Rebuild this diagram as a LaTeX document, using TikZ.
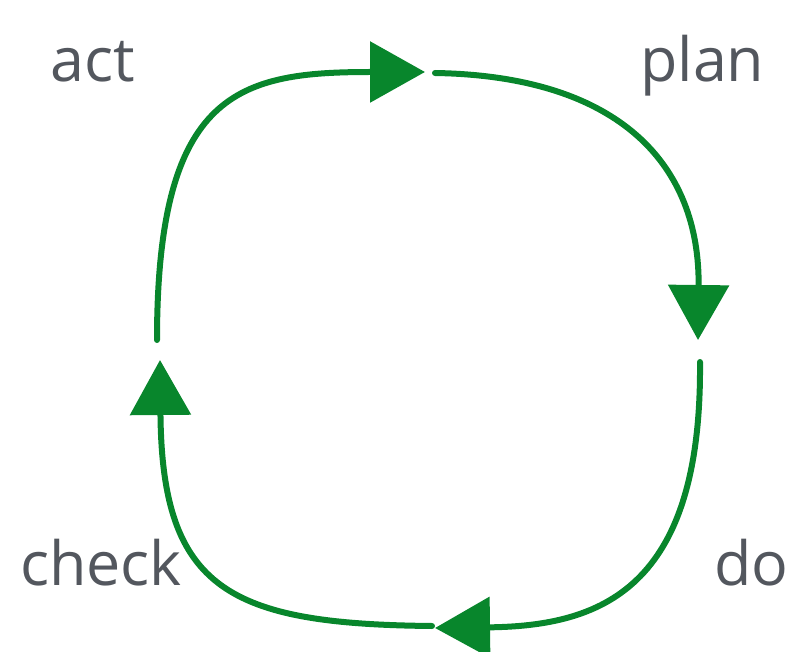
\documentclass[tikz,border=0pt]{standalone}
\usepackage{fontspec}
\setmainfont{Open Sans}
\usetikzlibrary{arrows.meta}

\definecolor{cyclegreen}{RGB}{8,134,44}
\definecolor{labelgray}{RGB}{83,87,94}

\begin{document}
\begin{tikzpicture}[
        x=1pt, y=-1pt,
        step label/.style={anchor=base west, inner sep=0pt, text=labelgray,
            font=\fontsize{61}{66}\selectfont},
        cycle arrow/.style={draw=cyclegreen, line width=6pt, line cap=round,
            -{Triangle[length=55pt 0 0, width=60pt 0 0]}},
    ]
    \useasboundingbox (0,0) rectangle (787,652);

    % labels in the four corners
    \node[step label](act) at (50,82) {act};
    \node[step label](plan) at (640,82) {plan};
    \node[step label](check) at (20,585) {check};
    \node[step label](do) at (714,585) {do};

    % free ends of the four arcs
    \coordinate (actout) at (157,340);
    \coordinate (planin) at (425,72);
    \coordinate (planout) at (435,73);
    \coordinate (doin) at (698,340);
    \coordinate (doout) at (700,362);
    \coordinate (checkin) at (435,628);
    \coordinate (checkout) at (432,626);
    \coordinate (actin) at (160,360);

    \draw[cycle arrow] (actout) .. controls (157,90) and (240,72) .. (planin);
    \draw[cycle arrow] (planout) .. controls (620,76) and (700,165) .. (doin);
    \draw[cycle arrow] (doout) .. controls (702,590) and (600,626) .. (checkin);
    \draw[cycle arrow] (checkout) .. controls (230,624) and (162,590) .. (actin);
\end{tikzpicture}
\end{document}
